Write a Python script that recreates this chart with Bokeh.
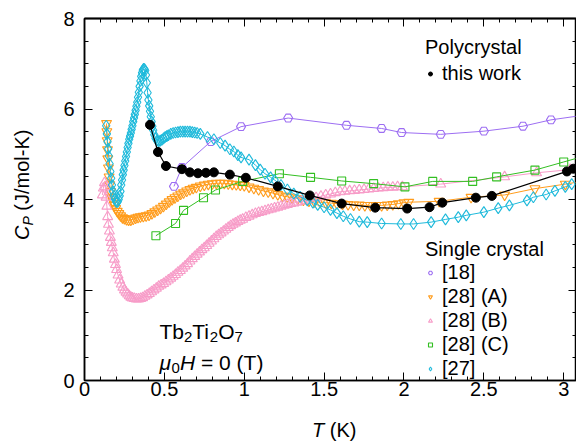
import math
from bokeh.plotting import figure
from bokeh.models import (Range1d, LinearAxis, FixedTicker, Legend, LegendItem,
                          Label, NumeralTickFormatter, Div)
from bokeh.layouts import row, column
from bokeh.embed import file_html
from bokeh.resources import INLINE

# ---------------- data ----------------
# this work (polycrystal)
work_T = [0.41, 0.46, 0.51, 0.61, 0.66, 0.71, 0.76, 0.81, 0.91, 1.01, 1.21, 1.41,
          1.61, 1.82, 2.02, 2.16, 2.24, 2.45, 2.55, 3.02, 3.06]
work_C = [5.65, 5.05, 4.74, 4.67, 4.60, 4.58, 4.59, 4.60, 4.55, 4.48, 4.29, 4.09,
          3.91, 3.82, 3.80, 3.83, 3.93, 4.04, 4.08, 4.62, 4.68]

# [18]
r18_T = [0.56, 0.61, 0.79, 0.98, 1.275, 1.64, 1.86, 1.985, 2.23, 2.50, 2.745, 2.92, 3.2]
r18_C = [4.29, 4.71, 5.28, 5.61, 5.80, 5.64, 5.57, 5.48, 5.44, 5.51, 5.62, 5.76, 5.90]

# [28] (C)
r28c_T = [0.447, 0.57, 0.62, 0.745, 0.82, 0.99, 1.22, 1.415, 1.61, 1.81, 2.006, 2.18,
          2.43, 2.58, 2.82, 3.0, 3.2]
r28c_C = [3.20, 3.47, 3.76, 4.04, 4.21, 4.40, 4.57, 4.49, 4.41, 4.35, 4.28, 4.40,
          4.40, 4.50, 4.65, 4.83, 5.03]

# [28] (A)
r28a_T = [0.138, 0.140, 0.142, 0.144, 0.146, 0.150, 0.154, 0.158, 0.163, 0.170, 0.178,
          0.186, 0.195, 0.205, 0.215, 0.226, 0.238, 0.250, 0.263, 0.276, 0.290, 0.305,
          0.320, 0.335, 0.350, 0.368, 0.386, 0.404, 0.422, 0.440, 0.458, 0.476, 0.494,
          0.512, 0.530, 0.548, 0.566, 0.584, 0.602, 0.620, 0.640, 0.660, 0.680, 0.700,
          0.725, 0.750, 0.775, 0.800, 0.825, 0.850, 0.875, 0.900, 0.925, 0.950, 0.975,
          1.000, 1.030, 1.060, 1.090, 1.120, 1.150, 1.180, 1.210, 1.240, 1.270, 1.300,
          1.335, 1.370, 1.405, 1.440, 1.475, 1.510, 1.545, 1.580, 1.615, 1.650, 1.685,
          1.720, 1.755, 1.790, 1.825, 1.860, 1.895, 1.930, 1.965, 2.000, 2.030, 2.22,
          2.42, 2.63, 2.82, 3.01, 3.20]
r28a_C = [5.68, 5.50, 5.30, 5.10, 4.90, 4.70, 4.50, 4.33, 4.18, 4.05, 3.96,
          3.88, 3.80, 3.74, 3.69, 3.64, 3.60, 3.58, 3.56, 3.55, 3.55, 3.57,
          3.59, 3.61, 3.62, 3.63, 3.64, 3.66, 3.69, 3.73, 3.77, 3.81, 3.85,
          3.90, 3.95, 4.00, 4.04, 4.08, 4.12, 4.15, 4.19, 4.22, 4.25, 4.27,
          4.30, 4.32, 4.34, 4.35, 4.36, 4.36, 4.36, 4.35, 4.34, 4.33, 4.32,
          4.31, 4.28, 4.25, 4.22, 4.19, 4.17, 4.14, 4.11, 4.08, 4.06, 4.04,
          4.02, 3.99, 3.97, 3.95, 3.94, 3.93, 3.92, 3.91, 3.90, 3.89, 3.88,
          3.88, 3.87, 3.87, 3.87, 3.87, 3.88, 3.89, 3.91, 3.93, 3.94, 3.96,
          4.05, 4.10, 4.24, 4.34, 4.45]

# [28] (B)
r28b_T = [0.112, 0.118, 0.125, 0.130, 0.135, 0.140, 0.145, 0.150, 0.156, 0.162, 0.168,
          0.174, 0.180, 0.187, 0.194, 0.201, 0.210, 0.220, 0.230, 0.240, 0.250, 0.260,
          0.270, 0.280, 0.290, 0.300, 0.312, 0.325, 0.338, 0.351, 0.364, 0.378, 0.392,
          0.406, 0.420, 0.435, 0.450, 0.465, 0.480, 0.495, 0.510, 0.525, 0.540, 0.555,
          0.570, 0.585, 0.600, 0.615, 0.630, 0.645, 0.660, 0.675, 0.690, 0.705, 0.720,
          0.735, 0.750, 0.765, 0.780, 0.795, 0.810, 0.825, 0.840, 0.855, 0.870, 0.885,
          0.900, 0.915, 0.930, 0.945, 0.960, 0.975, 0.990, 1.010, 1.030, 1.050, 1.070,
          1.090, 1.110, 1.130, 1.150, 1.170, 1.190, 1.210, 1.230, 1.250, 1.270, 1.290,
          1.310, 1.330, 1.360, 1.390, 1.420, 1.450, 1.480, 1.510, 1.540, 1.570, 1.600,
          1.630, 1.660, 1.690, 1.720, 1.750, 1.780, 1.810, 1.840, 1.870, 1.900, 1.930,
          1.960, 1.990, 2.23, 2.63, 2.83, 3.04]
r28b_C = [4.10, 4.25, 4.37, 4.28, 4.05, 3.85, 3.62, 3.45, 3.30, 3.16, 3.05,
          2.93, 2.82, 2.68, 2.56, 2.45, 2.33, 2.22, 2.13, 2.06, 2.00, 1.95,
          1.91, 1.87, 1.84, 1.82, 1.81, 1.80, 1.80, 1.81, 1.83, 1.86, 1.89,
          1.92, 1.96, 2.00, 2.04, 2.08, 2.11, 2.14, 2.18, 2.22, 2.26, 2.30,
          2.34, 2.39, 2.43, 2.48, 2.53, 2.58, 2.64, 2.69, 2.74, 2.79, 2.84,
          2.89, 2.93, 2.98, 3.03, 3.08, 3.13, 3.18, 3.22, 3.26, 3.30, 3.34,
          3.38, 3.42, 3.45, 3.48, 3.51, 3.54, 3.56, 3.60, 3.63, 3.66, 3.69,
          3.71, 3.73, 3.75, 3.77, 3.79, 3.81, 3.83, 3.85, 3.87, 3.89, 3.91,
          3.92, 3.94, 3.96, 3.98, 4.01, 4.04, 4.07, 4.10, 4.12, 4.15, 4.17,
          4.18, 4.19, 4.20, 4.21, 4.22, 4.23, 4.24, 4.25, 4.26, 4.27, 4.27,
          4.28, 4.28, 4.34, 4.50, 4.59, 4.66]

# [27]
r27_T = [0.136, 0.140, 0.144, 0.148, 0.152, 0.157, 0.162, 0.167, 0.172, 0.178, 0.184,
         0.190, 0.196, 0.202, 0.208, 0.214, 0.220, 0.225, 0.230, 0.235, 0.240, 0.245,
         0.250, 0.255, 0.260, 0.265, 0.270, 0.275, 0.280, 0.285, 0.290, 0.295, 0.300,
         0.305, 0.310, 0.315, 0.320, 0.325, 0.330, 0.335, 0.340, 0.345, 0.350, 0.355,
         0.360, 0.365, 0.370, 0.375, 0.380, 0.385, 0.390, 0.395, 0.400, 0.405, 0.410,
         0.415, 0.420, 0.425, 0.430, 0.437, 0.445, 0.455, 0.465, 0.475, 0.485, 0.495,
         0.505, 0.515, 0.525, 0.540, 0.555, 0.570, 0.585, 0.600, 0.615, 0.630, 0.645,
         0.660, 0.675, 0.690, 0.705, 0.725, 0.770, 0.810, 0.850, 0.880, 0.910, 0.935,
         0.960, 0.980, 1.030, 1.070, 1.100, 1.130, 1.165, 1.190, 1.230, 1.270, 1.310,
         1.350, 1.395, 1.430, 1.460, 1.500, 1.540, 1.580, 1.620, 1.665, 1.720, 1.770,
         1.860, 1.980, 2.060, 2.170, 2.260, 2.340, 2.390, 2.500, 2.590, 2.660, 2.770,
         2.810, 2.890, 2.945, 3.010, 3.050]
r27_C = [5.63, 5.45, 5.28, 5.12, 4.96, 4.79, 4.62, 4.47, 4.32, 4.18, 4.08,
         4.01, 3.96, 3.94, 3.95, 4.00, 4.08, 4.18, 4.32, 4.43, 4.55, 4.65,
         4.75, 4.85, 4.95, 5.05, 5.15, 5.24, 5.33, 5.40, 5.47, 5.55, 5.63,
         5.72, 5.80, 5.88, 5.97, 6.06, 6.15, 6.26, 6.37, 6.50, 6.62, 6.72,
         6.80, 6.86, 6.89, 6.88, 6.85, 6.75, 6.58, 6.36, 6.20, 6.07, 5.95,
         5.83, 5.72, 5.62, 5.53, 5.43, 5.35, 5.30, 5.29, 5.30, 5.32, 5.35,
         5.38, 5.40, 5.42, 5.45, 5.47, 5.48, 5.49, 5.50, 5.50, 5.50, 5.50,
         5.50, 5.49, 5.48, 5.47, 5.45, 5.38, 5.33, 5.25, 5.19, 5.11, 5.06,
         4.98, 4.93, 4.88, 4.76, 4.66, 4.57, 4.49, 4.43, 4.32, 4.22, 4.13,
         4.06, 3.98, 3.93, 3.88, 3.83, 3.77, 3.70, 3.63, 3.57, 3.51, 3.50,
         3.47, 3.46, 3.46, 3.50, 3.56, 3.61, 3.65, 3.72, 3.81, 3.87, 3.98,
         4.05, 4.11, 4.19, 4.28, 4.34]

x_tick_values = [0, 0.5, 1, 1.5, 2, 2.5, 3]
y_tick_values = [0, 2, 4, 6, 8]
x_minor_values = [i / 10 for i in range(0, 31)]
y_minor_values = [i / 2 for i in range(0, 17)]

# ---------------- figure ----------------
FONT = "Liberation Sans"
p = figure(width=536, height=408, output_backend="svg", toolbar_location=None,
           x_range=Range1d(0, 3.08), y_range=Range1d(0, 8),
           min_border_left=44, min_border_right=0, min_border_top=18,
           min_border_bottom=28)
p.grid.visible = False
p.outline_line_color = "black"
p.outline_line_width = 1.5
p.background_fill_color = "white"
p.border_fill_color = "white"

p.xaxis.ticker = FixedTicker(ticks=x_tick_values, minor_ticks=x_minor_values)
p.yaxis.ticker = FixedTicker(ticks=y_tick_values, minor_ticks=y_minor_values)

# mirrored tick marks (no labels): minor-tick-only axes on the top and right
for place, major, minor in (("above", x_tick_values, x_minor_values),
                            ("right", y_tick_values, y_minor_values)):
    for ticks, length in ((major, 8), (minor, 4)):
        ax = LinearAxis(ticker=FixedTicker(ticks=[], minor_ticks=ticks))
        ax.minor_tick_in = length
        ax.minor_tick_out = 0
        ax.major_tick_in = 0
        ax.major_tick_out = 0
        ax.major_label_standoff = 0
        ax.axis_line_color = "black"
        ax.axis_line_width = 1.5
        ax.minor_tick_line_color = "black"
        p.add_layout(ax, place)

for ax in p.below + p.left:
    ax.major_tick_in = 8
    ax.major_tick_out = 0
    ax.minor_tick_in = 4
    ax.minor_tick_out = 0
    ax.axis_line_color = "black"
    ax.axis_line_width = 1.5
    ax.major_tick_line_color = "black"
    ax.minor_tick_line_color = "black"
    ax.major_label_text_font = FONT
    ax.major_label_text_font_size = "20px"
    ax.major_label_text_color = "black"
    ax.formatter = NumeralTickFormatter(format="0.[0]")

p.below[0].major_label_standoff = 1
p.left[0].major_label_standoff = 10

# ---------------- series ----------------
PURPLE = "#9d6ef2"
ORANGE = "#ff9c1c"
PINK = "#f79cc8"
GREEN = "#33bf22"
CYAN = "#1fbadb"

p.line(r18_T, r18_C, color=PURPLE, line_width=1)
s18 = p.scatter(r18_T, r18_C, marker="hex", size=9, line_color=PURPLE,
                fill_alpha=0, line_width=1.1)

p.line(r28a_T, r28a_C, color=ORANGE, line_width=1)
s28a = p.scatter(r28a_T, r28a_C, marker="inverted_triangle", size=10,
                 line_color=ORANGE, fill_alpha=0, line_width=1.1)

p.line(r28b_T, r28b_C, color=PINK, line_width=1)
s28b = p.scatter(r28b_T, r28b_C, marker="triangle", size=10, line_color=PINK,
                 fill_alpha=0, line_width=1.1)

p.line(r28c_T, r28c_C, color=GREEN, line_width=1)
s28c = p.scatter(r28c_T, r28c_C, marker="square", size=8, line_color=GREEN,
                 fill_alpha=0, line_width=1.1)

p.line(r27_T, r27_C, color=CYAN, line_width=1)
s27 = p.scatter(r27_T, r27_C, marker="diamond", size=11, line_color=CYAN,
                fill_alpha=0, line_width=1.1)

p.line(work_T, work_C, color="black", line_width=1.2)
sw = p.scatter(work_T, work_C, marker="circle", size=9, color="black")

# ---------------- legends ----------------
def style_legend(lg):
    lg.border_line_alpha = 0
    lg.background_fill_alpha = 0
    lg.padding = 0
    lg.margin = 0
    lg.spacing = 1
    lg.glyph_width = 10
    lg.glyph_height = 23
    lg.label_height = 23
    lg.label_standoff = 7
    lg.label_text_font = FONT
    lg.label_text_font_size = "20px"
    lg.label_text_color = "black"
    lg.title_text_font = FONT
    lg.title_text_font_size = "20px"
    lg.title_text_font_style = "normal"
    lg.title_text_color = "black"

leg1 = Legend(items=[LegendItem(label="this work", renderers=[sw])],
              title="Polycrystal", location=(341, 295))
style_legend(leg1)
leg1.title_standoff = 3
p.add_layout(leg1)

leg2 = Legend(items=[LegendItem(label="[18]", renderers=[s18]),
                     LegendItem(label="[28] (A)", renderers=[s28a]),
                     LegendItem(label="[28] (B)", renderers=[s28b]),
                     LegendItem(label="[28] (C)", renderers=[s28c]),
                     LegendItem(label="[27]", renderers=[s27])],
              title="Single crystal", location=(341, 0))
style_legend(leg2)
leg2.title_standoff = 0
p.add_layout(leg2)

# ---------------- in-plot text ----------------
def lab(text, x, y, size, style="normal"):
    p.add_layout(Label(x=x, y=y, x_units="screen", y_units="screen", text=text,
                       text_font=FONT, text_font_size=f"{size}px",
                       text_font_style=style, text_color="black",
                       text_baseline="alphabetic", text_align="left"))

# Tb2Ti2O7
lab("Tb", 75, 49, 21)
lab("2", 99.5, 44, 15)
lab("Ti", 107.8, 49, 21)
lab("2", 125.3, 44, 15)
lab("O", 133.7, 49, 21)
lab("7", 150.0, 44, 15)
# mu0 H = 0 (T)
lab("\u03bc", 75, 18, 21, "italic")
lab("0", 87.1, 13, 15)
lab("H", 95.4, 18, 21, "italic")
lab("= 0 (T)", 116.5, 18, 21)

# ---------------- axis titles (HTML text beside the figure) ----------------
ylab_html = (
    '<div style="position:relative;width:40px;height:408px;">'
    '<div style="position:absolute;left:11px;top:240px;transform:rotate(-90deg);'
    'transform-origin:0 0;white-space:nowrap;font-family:\'Liberation Sans\';'
    'font-size:20px;line-height:23px;color:#000;">'
    '<i>C</i><span style="position:relative;top:4px;font-size:14px;"><i>P</i></span>'
    ' (J/mol-K)</div></div>'
)
xlab_html = (
    '<div style="position:relative;width:576px;height:35px;">'
    '<div style="position:absolute;left:312px;top:11px;white-space:nowrap;'
    'font-family:\'Liberation Sans\';font-size:20px;line-height:23px;color:#000;">'
    '<i>T</i> (K)</div></div>'
)
ydiv = Div(text=ylab_html, width=40, height=408, margin=0,
           styles={"overflow": "visible"})
xdiv = Div(text=xlab_html, width=576, height=35, margin=0,
           styles={"overflow": "visible"})

layout = column(row(ydiv, p, spacing=0), xdiv, spacing=0)

open("out.html", "w").write(file_html(layout, INLINE))
